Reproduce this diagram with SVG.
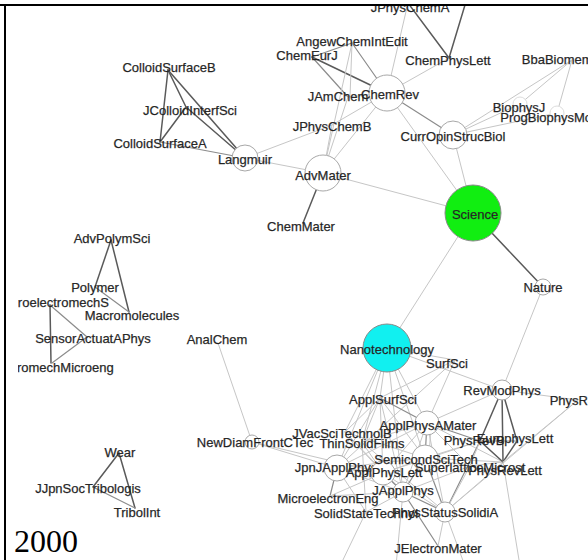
<svg xmlns="http://www.w3.org/2000/svg" width="588" height="560" viewBox="0 0 588 560">
<defs>
<style>
.e line{stroke-linecap:round}
.d{stroke:#5a5a5a;stroke-width:1.5}
.m{stroke:#8c8c8c;stroke-width:1.2}
.l{stroke:#c6c6c6;stroke-width:1}
.n circle{fill:#fff;stroke:#a8a8a8;stroke-width:1}
.n text{font-family:"Liberation Sans",Arial,sans-serif;font-size:13px;fill:#1a1a1a;stroke:#3a3a3a;stroke-width:0.25;text-anchor:middle}
.yr{font-family:"Liberation Serif","Times New Roman",serif;font-size:32px;fill:#000}
</style>
<clipPath id="cp"><rect x="18" y="6" width="570" height="554"/></clipPath>
</defs>
<rect x="0" y="0" width="588" height="560" fill="#fff"/>
<g clip-path="url(#cp)">
<g id="edges" class="e">
<line class="d" x1="168" y1="70" x2="160" y2="142"/>
<line class="d" x1="168" y1="70" x2="186" y2="107"/>
<line class="d" x1="168" y1="70" x2="245" y2="158"/>
<line class="d" x1="186" y1="107" x2="160" y2="142"/>
<line class="d" x1="186" y1="107" x2="245" y2="158"/>
<line class="m" x1="160" y1="142" x2="245" y2="158"/>
<line class="l" x1="245" y1="158" x2="332" y2="125"/>
<line class="l" x1="245" y1="158" x2="323" y2="173"/>
<line class="d" x1="111" y1="240" x2="95" y2="287"/>
<line class="d" x1="111" y1="240" x2="129" y2="312"/>
<line class="m" x1="95" y1="287" x2="129" y2="312"/>
<line class="m" x1="50" y1="305" x2="87" y2="337"/>
<line class="d" x1="50" y1="305" x2="51" y2="363"/>
<line class="m" x1="87" y1="337" x2="52" y2="363"/>
<line class="d" x1="119" y1="453" x2="93" y2="487"/>
<line class="d" x1="119" y1="453" x2="135" y2="508"/>
<line class="m" x1="93" y1="487" x2="135" y2="508"/>
<line class="d" x1="408" y1="3" x2="449" y2="58"/>
<line class="d" x1="468" y1="-5" x2="449" y2="58"/>
<line class="l" x1="408" y1="3" x2="387" y2="93"/>
<line class="l" x1="449" y1="58" x2="387" y2="93"/>
<line class="d" x1="312" y1="57" x2="387" y2="93"/>
<line class="m" x1="312" y1="57" x2="352" y2="43"/>
<line class="m" x1="312" y1="57" x2="348" y2="97"/>
<line class="m" x1="352" y1="43" x2="387" y2="93"/>
<line class="l" x1="352" y1="43" x2="350" y2="97"/>
<line class="l" x1="352" y1="43" x2="323" y2="173"/>
<line class="l" x1="348" y1="97" x2="387" y2="93"/>
<line class="l" x1="348" y1="97" x2="323" y2="173"/>
<line class="l" x1="387" y1="93" x2="323" y2="173"/>
<line class="l" x1="332" y1="125" x2="323" y2="173"/>
<line class="l" x1="332" y1="125" x2="387" y2="93"/>
<line class="m" x1="387" y1="93" x2="453" y2="135"/>
<line class="l" x1="387" y1="93" x2="473" y2="213"/>
<line class="l" x1="453" y1="135" x2="473" y2="213"/>
<line class="l" x1="453" y1="135" x2="520" y2="104"/>
<line class="l" x1="453" y1="135" x2="557" y2="113"/>
<line class="l" x1="453" y1="135" x2="572" y2="60"/>
<line class="l" x1="572" y1="60" x2="520" y2="104"/>
<line class="l" x1="572" y1="60" x2="557" y2="113"/>
<line class="d" x1="323" y1="173" x2="303" y2="223"/>
<line class="l" x1="323" y1="173" x2="473" y2="213"/>
<line class="d" x1="473" y1="213" x2="543" y2="287"/>
<line class="l" x1="473" y1="213" x2="387" y2="348"/>
<line class="l" x1="543" y1="287" x2="502" y2="390"/>
<line class="l" x1="218" y1="343" x2="252" y2="442"/>
<line class="l" x1="252" y1="442" x2="383" y2="473"/>
<line class="l" x1="252" y1="442" x2="337" y2="468"/>
<line class="l" x1="387" y1="348" x2="455" y2="360"/>
<line class="l" x1="387" y1="348" x2="380" y2="398"/>
<line class="l" x1="387" y1="348" x2="427" y2="423"/>
<line class="l" x1="387" y1="348" x2="345" y2="432"/>
<line class="l" x1="387" y1="348" x2="362" y2="442"/>
<line class="l" x1="387" y1="348" x2="337" y2="468"/>
<line class="l" x1="387" y1="348" x2="425" y2="458"/>
<line class="l" x1="387" y1="348" x2="403" y2="492"/>
<line class="l" x1="387" y1="348" x2="502" y2="390"/>
<line class="l" x1="455" y1="360" x2="380" y2="398"/>
<line class="l" x1="455" y1="360" x2="427" y2="423"/>
<line class="l" x1="455" y1="360" x2="337" y2="468"/>
<line class="m" x1="380" y1="398" x2="427" y2="423"/>
<line class="l" x1="380" y1="398" x2="362" y2="442"/>
<line class="l" x1="380" y1="398" x2="345" y2="432"/>
<line class="l" x1="380" y1="398" x2="337" y2="468"/>
<line class="l" x1="380" y1="398" x2="425" y2="458"/>
<line class="l" x1="380" y1="398" x2="383" y2="473"/>
<line class="l" x1="380" y1="398" x2="403" y2="492"/>
<line class="m" x1="427" y1="423" x2="425" y2="458"/>
<line class="l" x1="431" y1="424" x2="429" y2="458"/>
<line class="l" x1="427" y1="423" x2="383" y2="473"/>
<line class="l" x1="427" y1="423" x2="403" y2="492"/>
<line class="l" x1="427" y1="423" x2="337" y2="468"/>
<line class="l" x1="427" y1="423" x2="362" y2="442"/>
<line class="m" x1="427" y1="423" x2="480" y2="441"/>
<line class="l" x1="427" y1="423" x2="470" y2="466"/>
<line class="l" x1="427" y1="423" x2="445" y2="512"/>
<line class="l" x1="427" y1="423" x2="502" y2="390"/>
<line class="l" x1="427" y1="423" x2="503" y2="462"/>
<line class="m" x1="337" y1="468" x2="383" y2="473"/>
<line class="l" x1="337" y1="468" x2="403" y2="492"/>
<line class="m" x1="337" y1="468" x2="330" y2="496"/>
<line class="l" x1="337" y1="468" x2="366" y2="512"/>
<line class="l" x1="337" y1="468" x2="425" y2="458"/>
<line class="l" x1="345" y1="432" x2="383" y2="473"/>
<line class="l" x1="345" y1="432" x2="425" y2="458"/>
<line class="l" x1="345" y1="432" x2="403" y2="492"/>
<line class="l" x1="362" y1="442" x2="383" y2="473"/>
<line class="l" x1="362" y1="442" x2="445" y2="512"/>
<line class="l" x1="362" y1="442" x2="366" y2="512"/>
<line class="m" x1="383" y1="473" x2="403" y2="492"/>
<line class="l" x1="383" y1="473" x2="425" y2="458"/>
<line class="l" x1="383" y1="473" x2="445" y2="512"/>
<line class="l" x1="383" y1="473" x2="480" y2="441"/>
<line class="l" x1="383" y1="473" x2="330" y2="496"/>
<line class="m" x1="425" y1="458" x2="403" y2="492"/>
<line class="l" x1="425" y1="458" x2="470" y2="466"/>
<line class="m" x1="425" y1="458" x2="445" y2="512"/>
<line class="l" x1="425" y1="458" x2="480" y2="441"/>
<line class="l" x1="425" y1="458" x2="503" y2="462"/>
<line class="m" x1="403" y1="492" x2="445" y2="512"/>
<line class="m" x1="403" y1="492" x2="438" y2="546"/>
<line class="l" x1="403" y1="492" x2="366" y2="512"/>
<line class="l" x1="403" y1="492" x2="330" y2="496"/>
<line class="l" x1="403" y1="492" x2="470" y2="466"/>
<line class="m" x1="445" y1="512" x2="480" y2="441"/>
<line class="l" x1="445" y1="512" x2="470" y2="466"/>
<line class="l" x1="445" y1="512" x2="438" y2="546"/>
<line class="l" x1="445" y1="512" x2="503" y2="462"/>
<line class="l" x1="470" y1="466" x2="503" y2="462"/>
<line class="l" x1="470" y1="466" x2="480" y2="441"/>
<line class="d" x1="502" y1="390" x2="480" y2="441"/>
<line class="d" x1="502" y1="390" x2="517" y2="441"/>
<line class="d" x1="502" y1="390" x2="503" y2="462"/>
<line class="d" x1="480" y1="441" x2="503" y2="462"/>
<line class="d" x1="517" y1="441" x2="503" y2="462"/>
<line class="m" x1="480" y1="441" x2="517" y2="441"/>
<line class="l" x1="502" y1="390" x2="578" y2="400"/>
<line class="l" x1="578" y1="400" x2="503" y2="462"/>
<line class="l" x1="578" y1="400" x2="445" y2="512"/>
<line class="l" x1="366" y1="512" x2="340" y2="566"/>
<line class="l" x1="403" y1="492" x2="396" y2="566"/>
<line class="l" x1="445" y1="512" x2="465" y2="566"/>
<line class="l" x1="503" y1="462" x2="520" y2="566"/>
</g>
<g id="n-Langmuir" class="n"><circle cx="245" cy="158" r="13"/><text x="245" y="163.5">Langmuir</text></g>
<g id="n-ColloidSurfaceB" class="n"><text x="169" y="71.5">ColloidSurfaceB</text></g>
<g id="n-JColloidInterfSci" class="n"><text x="190" y="114.5">JColloidInterfSci</text></g>
<g id="n-ColloidSurfaceA" class="n"><text x="160" y="147.5">ColloidSurfaceA</text></g>
<g id="n-JPhysChemA" class="n"><text x="410" y="11.5">JPhysChemA</text></g>
<g id="n-ChemPhysLett" class="n"><text x="448" y="64.5">ChemPhysLett</text></g>
<g id="n-AngewChemIntEdit" class="n"><text x="352" y="45.5">AngewChemIntEdit</text></g>
<g id="n-ChemEurJ" class="n"><text x="307" y="59.5">ChemEurJ</text></g>
<g id="n-ChemRev" class="n"><circle cx="387" cy="93" r="18"/><text x="390" y="98.5">ChemRev</text></g>
<g id="n-JAmChem" class="n"><text x="338" y="100.5">JAmChem</text></g>
<g id="n-JPhysChemB" class="n"><text x="332" y="130.5">JPhysChemB</text></g>
<g id="n-CurrOpinStrucBiol" class="n"><circle cx="453" cy="135" r="14"/><text x="453" y="140.5">CurrOpinStrucBiol</text></g>
<g id="n-BbaBiomembr" class="n"><text x="563" y="63.5">BbaBiomembr</text></g>
<g id="n-BiophysJ" class="n"><circle cx="520" cy="104" r="7" style="stroke:#ddd"/><text x="519" y="111.5">BiophysJ</text></g>
<g id="n-ProgBiophysMolBio" class="n"><circle cx="557" cy="113" r="7" style="stroke:#ddd"/><text x="557" y="121.5">ProgBiophysMolBio</text></g>
<g id="n-AdvMater" class="n"><circle cx="323" cy="173" r="18"/><text x="323" y="179.5">AdvMater</text></g>
<g id="n-ChemMater" class="n"><text x="301" y="230.5">ChemMater</text></g>
<g id="n-Science" class="n"><circle cx="473" cy="213" r="28" style="fill:#11ee11;stroke:#8a8a8a"/><text x="475" y="218.5">Science</text></g>
<g id="n-Nature" class="n"><circle cx="543" cy="287" r="8"/><text x="543" y="291.5">Nature</text></g>
<g id="n-Nanotechnology" class="n"><circle cx="387" cy="348" r="24" style="fill:#11f0f0;stroke:#8a8a8a"/><text x="387" y="353.5">Nanotechnology</text></g>
<g id="n-SurfSci" class="n"><text x="447" y="367.5">SurfSci</text></g>
<g id="n-AdvPolymSci" class="n"><text x="112" y="242.5">AdvPolymSci</text></g>
<g id="n-Polymer" class="n"><text x="95" y="291.5">Polymer</text></g>
<g id="n-Macromolecules" class="n"><text x="132" y="319.5">Macromolecules</text></g>
<g id="n-JMicroelectromechS" class="n"><text x="50" y="306.5">JMicroelectromechS</text></g>
<g id="n-SensorActuatAPhys" class="n"><text x="93" y="342.5">SensorActuatAPhys</text></g>
<g id="n-JMicromechMicroeng" class="n"><text x="52" y="371.5">JMicromechMicroeng</text></g>
<g id="n-AnalChem" class="n"><text x="217" y="343.5">AnalChem</text></g>
<g id="n-NewDiamFrontCTec" class="n"><circle cx="252" cy="442" r="7"/><text x="255" y="446.5">NewDiamFrontCTec</text></g>
<g id="n-Wear" class="n"><text x="120" y="456.5">Wear</text></g>
<g id="n-JJpnSocTribologis" class="n"><text x="88" y="492.5">JJpnSocTribologis</text></g>
<g id="n-TribolInt" class="n"><text x="137" y="516.5">TribolInt</text></g>
<g id="n-RevModPhys" class="n"><circle cx="502" cy="390" r="10"/><text x="502" y="394.5">RevModPhys</text></g>
<g id="n-PhysRevE" class="n"><text x="580" y="404.5">PhysRevE</text></g>
<g id="n-ApplSurfSci" class="n"><text x="383" y="403.5">ApplSurfSci</text></g>
<g id="n-ApplPhysAMater" class="n"><circle cx="427" cy="423" r="12"/><text x="428" y="429.5">ApplPhysAMater</text></g>
<g id="n-JVacSciTechnolB" class="n"><text x="342" y="437.5">JVacSciTechnolB</text></g>
<g id="n-ThinSolidFilms" class="n"><text x="362" y="447.5">ThinSolidFilms</text></g>
<g id="n-PhysRevB" class="n"><text x="474" y="444.5">PhysRevB</text></g>
<g id="n-EurophysLett" class="n"><text x="515" y="442.5">EurophysLett</text></g>
<g id="n-JpnJApplPhys" class="n"><circle cx="337" cy="468" r="13"/><text x="336" y="471.5">JpnJApplPhys</text></g>
<g id="n-ApplPhysLett" class="n"><circle cx="383" cy="473" r="12"/><text x="384" y="476.5">ApplPhysLett</text></g>
<g id="n-SemicondSciTech" class="n"><circle cx="425" cy="458" r="13"/><text x="426" y="463.5">SemicondSciTech</text></g>
<g id="n-SuperlatticeMicrost" class="n"><text x="470" y="471.5">SuperlatticeMicrost</text></g>
<g id="n-PhysRevLett" class="n"><text x="505" y="474.5">PhysRevLett</text></g>
<g id="n-JApplPhys" class="n"><circle cx="403" cy="492" r="10"/><text x="403" y="494.5">JApplPhys</text></g>
<g id="n-MicroelectronEng" class="n"><text x="328" y="502.5">MicroelectronEng</text></g>
<g id="n-SolidStateTechnol" class="n"><text x="366" y="517.5">SolidStateTechnol</text></g>
<g id="n-PhysStatusSolidiA" class="n"><circle cx="445" cy="512" r="10"/><text x="445" y="516.5">PhysStatusSolidiA</text></g>
<g id="n-JElectronMater" class="n"><text x="438" y="552.5">JElectronMater</text></g>
</g>
<g id="frame">
<line x1="0" y1="5" x2="588" y2="5" stroke="#000" stroke-width="2"/>
<line x1="5" y1="4" x2="5" y2="560" stroke="#000" stroke-width="2"/>
<text class="yr" x="14" y="552">2000</text>
</g>
</svg>
